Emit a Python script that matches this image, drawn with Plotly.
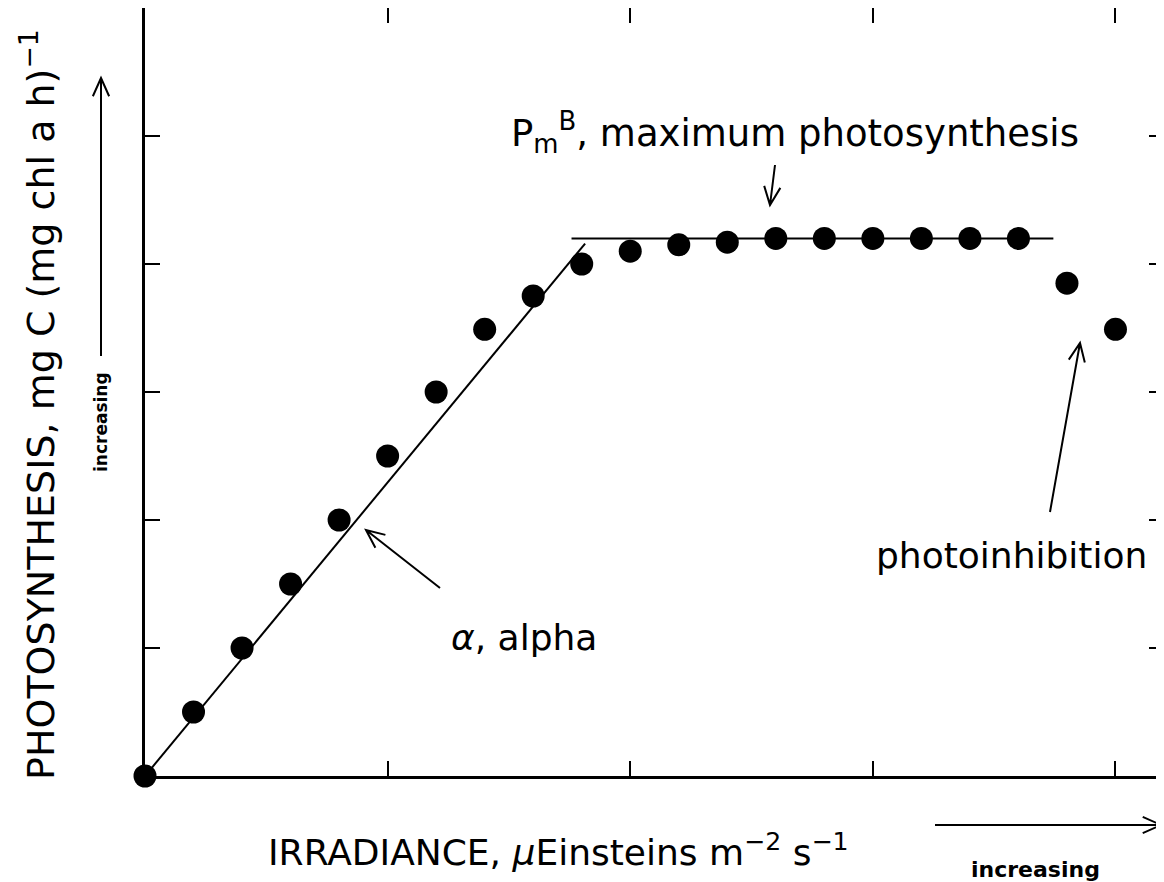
import math
import plotly.graph_objects as go

# ---- data ----
irradiance = list(range(21))
photosynthesis = [0.0, 0.5, 1.0, 1.5, 2.0, 2.5, 3.0, 3.49, 3.75, 4.0, 4.1, 4.15, 4.17,
                  4.2, 4.2, 4.2, 4.2, 4.2, 4.2, 3.85, 3.49]
alpha_x = [0.0, 9.07]
alpha_y = [0.0, 4.16]
pmax_x = [8.79, 18.72]
pmax_y = [4.2, 4.2]
x_ticks = [5, 10, 15, 20]
y_ticks = [1, 2, 3, 4, 5]

# page offset of the plot div (default body margin)
OFF = 8
FW, FH = 1164 - OFF, 882 - OFF
P_LEFT, P_RIGHT, P_TOP, P_BOTTOM = 145, 1164, 7, 776   # plot area in page pixels
L = P_LEFT - OFF
R = FW - (P_RIGHT - OFF)
T = max(P_TOP - OFF, 0)
B = FH - (P_BOTTOM - OFF)
PW = P_RIGHT - P_LEFT
PH = P_BOTTOM - (T + OFF)

def px(x):
    return (x - P_LEFT) / PW

def py(y):
    return (P_BOTTOM - y) / PH

FONT = "DejaVu Sans"

fig = go.Figure()
fig.add_trace(go.Scatter(x=alpha_x, y=alpha_y, mode="lines",
                         line=dict(color="black", width=2), showlegend=False,
                         hoverinfo="skip"))
fig.add_trace(go.Scatter(x=pmax_x, y=pmax_y, mode="lines",
                         line=dict(color="black", width=2), showlegend=False,
                         hoverinfo="skip"))
fig.add_trace(go.Scatter(x=irradiance, y=photosynthesis, mode="markers",
                         marker=dict(color="black", size=23, line=dict(width=0)),
                         cliponaxis=False, showlegend=False))
# invisible trace to activate mirrored tick axes
fig.add_trace(go.Scatter(x=[0], y=[0], xaxis="x2", yaxis="y2", mode="markers",
                         marker=dict(opacity=0), showlegend=False, hoverinfo="skip"))

ax_common = dict(showgrid=False, zeroline=False, showticklabels=False,
                 ticks="inside", ticklen=15, tickwidth=2, tickcolor="black")

fig.update_layout(
    width=FW, height=FH,
    margin=dict(l=L, r=R, t=T, b=B, pad=0),
    paper_bgcolor="white", plot_bgcolor="white",
    xaxis=dict(range=[0, 21], tickvals=x_ticks, showline=True, linecolor="black",
               linewidth=2.5, **ax_common),
    xaxis2=dict(range=[0, 21], tickvals=x_ticks, overlaying="x", side="top",
                showline=True, linecolor="black", linewidth=2.5, anchor="y", **ax_common),
    yaxis=dict(range=[0, 6], tickvals=y_ticks, showline=True, linecolor="black",
               linewidth=2.5, **ax_common),
    yaxis2=dict(range=[0, 6], tickvals=y_ticks, overlaying="y", side="right",
                showline=False, anchor="x", **ax_common),
)

# ---- arrows with open chevron heads (page pixel positions) ----
def arrow(x0, y0, x1, y1, head=20, ang=24, width=2):
    a = math.atan2(y1 - y0, x1 - x0)
    pts = []
    for s in (1, -1):
        b = a + math.pi - s * math.radians(ang)
        pts.append((x1 + head * math.cos(b), y1 + head * math.sin(b)))
    path = (f"M{px(x0)},{py(y0)} L{px(x1)},{py(y1)} "
            f"M{px(pts[0][0])},{py(pts[0][1])} L{px(x1)},{py(y1)} "
            f"L{px(pts[1][0])},{py(pts[1][1])}")
    fig.add_shape(type="path", path=path, xref="paper", yref="paper",
                  line=dict(color="black", width=width))

arrow(101, 356, 101, 78)
arrow(935, 825, 1161, 825)
arrow(440, 588, 366, 530)
arrow(775, 165, 770, 205)
arrow(1050, 512, 1080, 343)

# ---- text ----
def text(t, x, y, size=36, angle=0, bold=False):
    fig.add_annotation(text=t, x=px(x), y=py(y), xref="paper", yref="paper",
                       showarrow=False, textangle=angle, xanchor="center",
                       yanchor="middle",
                       font=dict(family=FONT, size=size, color="black",
                                 weight="bold" if bold else "normal"))

text("PHOTOSYNTHESIS, mg C (mg chl a h)<sup>−1</sup>", 38, 405, size=38, angle=-90)
text("increasing", 101, 422, size=17, angle=-90, bold=True)
text("IRRADIANCE, <i>μ</i>Einsteins m<sup>−2</sup> s<sup>−1</sup>", 558, 850, size=36)
text("increasing", 1035, 869, size=22, bold=True)
text("<i>α</i>, alpha", 524, 637)
text("P<sub>m</sub><sup>B</sup>, maximum photosynthesis", 795, 132, size=37)
text("photoinhibition", 1011, 555)

fig.write_html("out.html")
